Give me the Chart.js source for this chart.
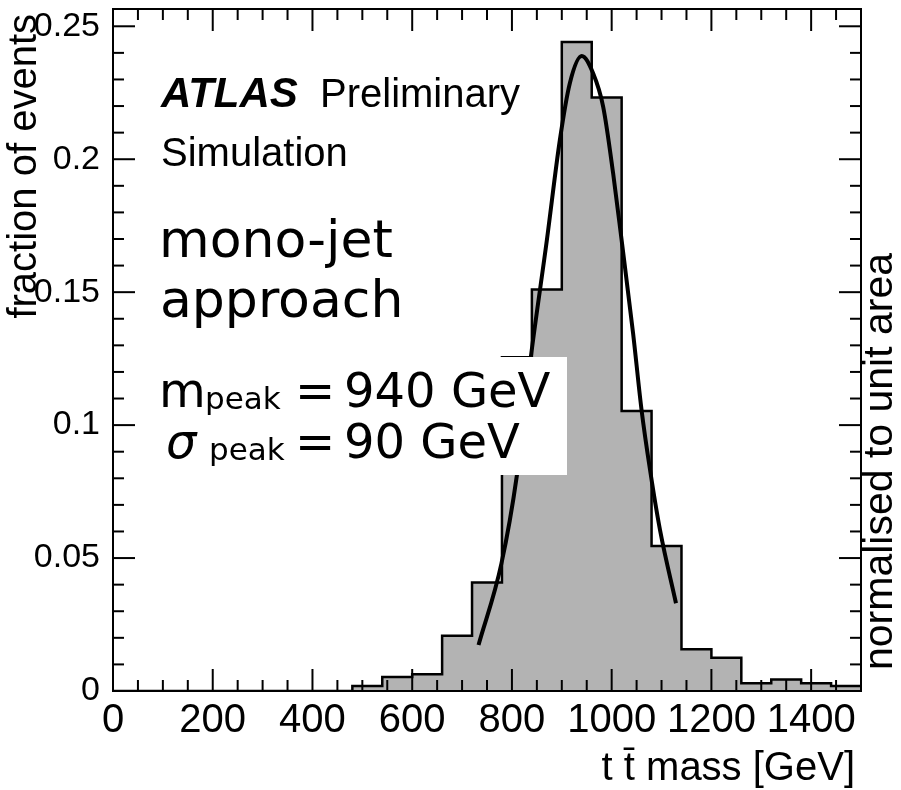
<!DOCTYPE html>
<html>
<head>
<meta charset="utf-8">
<script src="https://cdn.jsdelivr.net/npm/chart.js@4"></script>
<style>
  html, body { margin: 0; padding: 0; background: #fff; }
  canvas { display: block; }
</style>
</head>
<body>
<canvas id="c" width="901" height="790"></canvas>
<script>
// t-tbar invariant mass, mono-jet reconstruction, simulated events normalised to unit area
const binEdges = [0, 60, 120, 180, 240, 300, 360, 420, 480, 540, 600, 660, 720, 780,
                  840, 900, 960, 1020, 1080, 1140, 1200, 1260, 1320, 1380, 1440, 1500];
const fractions = [0, 0, 0, 0, 0, 0, 0, 0,
                   0.0019, 0.0053, 0.0063, 0.0208, 0.0408, 0.1255, 0.1510, 0.2441,
                   0.2232, 0.1053, 0.0545, 0.0157, 0.0125, 0.0029, 0.0043, 0.0029, 0.0019];

// fitted peak shape (GeV, fraction)
const fitMass  = [733, 779, 810, 838, 870, 896, 916, 940, 963, 983, 1003, 1020, 1043, 1060, 1077, 1097, 1129];
const fitValue = [0.0173, 0.0480, 0.0812, 0.1257, 0.1695, 0.2071, 0.2285, 0.2388, 0.2322, 0.2197,
                  0.1946, 0.1695, 0.1345, 0.1056, 0.0831, 0.0605, 0.0330];

const peakMass = 940;
const peakWidth = 90;

const xTickLabels = ['0', '200', '400', '600', '800', '1000', '1200', '1400'];
const yTickLabels = ['0', '0.05', '0.1', '0.15', '0.2', '0.25'];

const ROOT_FONT = 'Liberation Sans, Arial, Helvetica, sans-serif';
const NOTE_FONT = 'DejaVu Sans, sans-serif';

// histogram outline: one point per lower bin edge, closed at the upper edge
const histPoints = binEdges.slice(0, -1).map((e, i) => ({ x: e, y: fractions[i] }));
histPoints.push({ x: binEdges[binEdges.length - 1], y: fractions[fractions.length - 1] });
const fitPoints = fitMass.map((m, i) => ({ x: m, y: fitValue[i] }));

function seg(ctx, x1, y1, x2, y2) {
  ctx.beginPath(); ctx.moveTo(x1, y1); ctx.lineTo(x2, y2); ctx.stroke();
}

const decorations = {
  id: 'decorations',
  afterDatasetsDraw(chart) {
    const { ctx, chartArea: a, scales: { x, y } } = chart;
    ctx.save();

    // peak parameters panel sits on top of the histogram and the fit
    ctx.fillStyle = '#ffffff';
    ctx.fillRect(157, 357, 410, 118);

    ctx.fillStyle = '#000';
    ctx.textBaseline = 'alphabetic';
    ctx.textAlign = 'left';

    // experiment label
    ctx.font = 'italic bold 42px ' + ROOT_FONT;
    ctx.fillText('ATLAS', 161, 107);
    ctx.font = '40px ' + ROOT_FONT;
    ctx.fillText('Preliminary', 320, 107);
    ctx.fillText('Simulation', 161, 166);

    // reconstruction approach
    ctx.font = '52px ' + NOTE_FONT;
    ctx.fillText('mono-jet', 159, 257);
    ctx.fillText('approach', 160, 317);

    // peak position and width
    ctx.font = '48px ' + NOTE_FONT;
    ctx.fillText('m', 159, 407);
    ctx.fillText('=', 295, 407);
    ctx.fillText(peakMass + ' GeV', 344, 407);
    ctx.font = '31px ' + NOTE_FONT;
    ctx.fillText('peak', 205, 409);

    ctx.font = 'italic 48px ' + NOTE_FONT;
    ctx.fillText('\u03c3', 166, 458);
    ctx.font = '48px ' + NOTE_FONT;
    ctx.fillText('=', 295, 458);
    ctx.fillText(peakWidth + ' GeV', 344, 458);
    ctx.font = '31px ' + NOTE_FONT;
    ctx.fillText('peak', 209, 460);

    // inward ticks on all four sides
    ctx.strokeStyle = '#000';
    ctx.lineWidth = 2;
    for (let v = 0; v <= 1500; v += 50) {
      const px = x.getPixelForValue(v);
      const len = v % 200 === 0 ? 22 : 11;
      seg(ctx, px, a.bottom, px, a.bottom - len);
      seg(ctx, px, a.top, px, a.top + len);
    }
    for (let k = 0; k <= 25; k++) {
      const py = y.getPixelForValue(k / 100);
      const len = k % 5 === 0 ? 22 : 11;
      seg(ctx, a.left, py, a.left + len, py);
      seg(ctx, a.right, py, a.right - len, py);
    }

    // frame
    ctx.lineWidth = 2;
    ctx.strokeRect(a.left, a.top, a.right - a.left, a.bottom - a.top);

    // axis titles
    ctx.font = '40px ' + ROOT_FONT;
    ctx.textAlign = 'right';
    ctx.fillText('t t\u0304 mass [GeV]', 855, 780);

    ctx.save();
    ctx.translate(25, 14);
    ctx.rotate(-Math.PI / 2);
    ctx.textAlign = 'right';
    ctx.textBaseline = 'middle';
    ctx.fillText('fraction of events', 0, 0);
    ctx.restore();

    ctx.save();
    ctx.font = '41px ' + ROOT_FONT;
    ctx.translate(881, 670);
    ctx.rotate(-Math.PI / 2);
    ctx.textAlign = 'left';
    ctx.textBaseline = 'middle';
    ctx.fillText('normalised to unit area', 0, 0);
    ctx.restore();

    ctx.restore();
  }
};

new Chart(document.getElementById('c'), {
  type: 'line',
  data: {
    datasets: [
      {
        label: 'fit',
        data: fitPoints,
        order: 0,
        borderColor: '#000',
        borderWidth: 4,
        pointRadius: 0,
        cubicInterpolationMode: 'monotone',
        fill: false
      },
      {
        label: 'simulation',
        data: histPoints,
        order: 1,
        stepped: 'before',
        borderColor: '#000',
        borderWidth: 2.5,
        backgroundColor: '#b3b3b3',
        pointRadius: 0,
        fill: 'origin'
      }
    ]
  },
  options: {
    responsive: false,
    animation: false,
    events: [],
    layout: { padding: { left: 0, right: 40, top: 9, bottom: 0 } },
    plugins: { legend: { display: false }, tooltip: { enabled: false } },
    scales: {
      x: {
        type: 'linear',
        min: 0,
        max: 1500,
        afterFit(s) { s.height = 99; s.paddingLeft = 0; s.paddingRight = 0; },
        grid: { display: false },
        border: { display: false },
        ticks: {
          stepSize: 200,
          includeBounds: false,
          autoSkip: false,
          maxRotation: 0,
          padding: -2,
          color: '#000',
          font: { family: ROOT_FONT, size: 40 },
          callback: (v, i) => xTickLabels[i]
        }
      },
      y: {
        type: 'linear',
        min: 0,
        max: 0.2565,
        afterFit(s) { s.width = 113; s.paddingTop = 0; s.paddingBottom = 0; },
        grid: { display: false },
        border: { display: false },
        ticks: {
          stepSize: 0.05,
          includeBounds: false,
          autoSkip: false,
          padding: 5,
          color: '#000',
          font: { family: ROOT_FONT, size: 34 },
          callback: (v, i) => yTickLabels[i]
        }
      }
    }
  },
  plugins: [decorations]
});
</script>
</body>
</html>
